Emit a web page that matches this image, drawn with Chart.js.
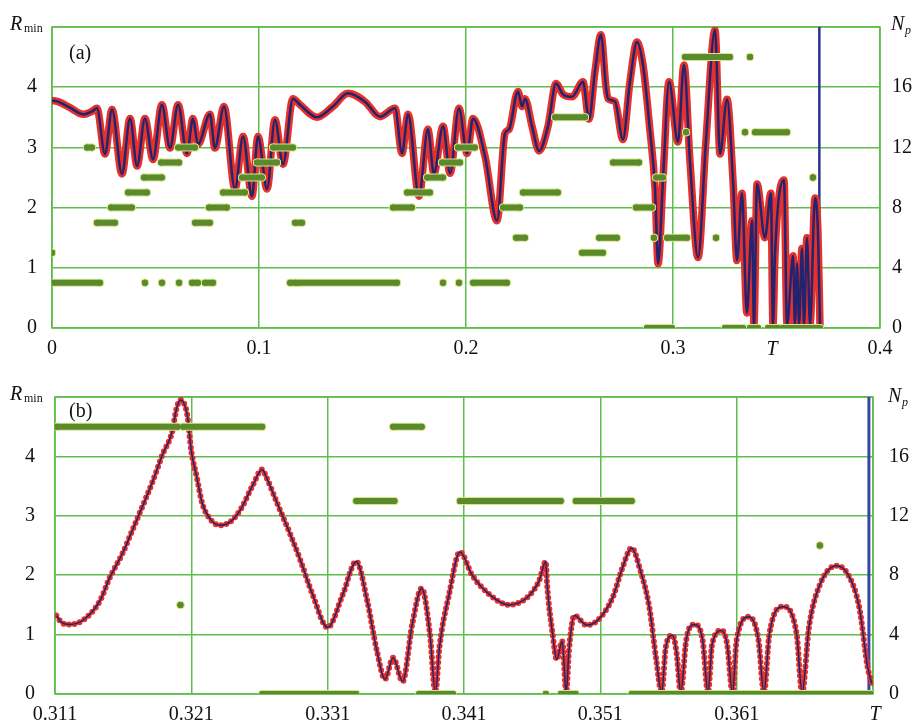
<!DOCTYPE html>
<html>
<head>
<meta charset="utf-8">
<script src="https://cdn.jsdelivr.net/npm/chart.js@4.4.0/dist/chart.umd.min.js"></script>
<style>
html, body { margin: 0; padding: 0; background: #fff; }
#wrapA { position: absolute; left: 0; top: 0; width: 913px; height: 362px; }
#wrapB { position: absolute; left: 0; top: 365px; width: 913px; height: 361px; }
</style>
</head>
<body>
<div id="wrapA"><canvas id="chartA"></canvas></div>
<div id="wrapB"><canvas id="chartB"></canvas></div>
<script>
// ---- data, panel (a) ----
const periodT = 0.3707;

const curveA_T = [0, 0.0029, 0.0087, 0.0150, 0.0193, 0.0217, 0.0256, 0.0290, 0.0338, 0.0377,
  0.0411, 0.0449, 0.0488, 0.0531, 0.0570, 0.0609, 0.0652, 0.0681, 0.0705, 0.0763,
  0.0787, 0.0831, 0.0884, 0.0923, 0.0966, 0.0995, 0.1039, 0.1077, 0.1116, 0.1164,
  0.1198, 0.1280, 0.1357, 0.1430, 0.1512, 0.1585, 0.1657, 0.1691, 0.1720, 0.1773,
  0.1816, 0.1845, 0.1889, 0.1923, 0.1966, 0.2005, 0.2034, 0.2092, 0.2150, 0.2188,
  0.2208, 0.2251, 0.2271, 0.2285, 0.2319, 0.2353, 0.2396, 0.2435, 0.2469, 0.2512,
  0.2565, 0.2594, 0.2623, 0.2652, 0.2676, 0.2686, 0.2720, 0.2758, 0.2792, 0.2826,
  0.2855, 0.2889, 0.2913, 0.2928, 0.2952, 0.2981, 0.3024, 0.3053, 0.3082, 0.3121,
  0.3159, 0.3203, 0.3227, 0.3261, 0.3290, 0.3309, 0.3333, 0.3357, 0.3382, 0.3391,
  0.3406, 0.3444, 0.3473, 0.3483, 0.3493, 0.3536, 0.3551, 0.3580, 0.3589, 0.3599,
  0.3609, 0.3623, 0.3633, 0.3647, 0.3662, 0.3686, 0.3700, 0.3710];
const curveA_R = [3.78, 3.76, 3.66, 3.55, 3.60, 3.65, 2.89, 3.63, 2.56, 3.48,
  2.69, 3.48, 2.80, 3.71, 2.99, 3.71, 2.90, 3.48, 3.05, 3.55,
  2.99, 3.68, 2.31, 3.18, 2.19, 3.18, 2.31, 3.46, 2.72, 3.81,
  3.71, 3.50, 3.68, 3.90, 3.76, 3.51, 3.65, 2.90, 3.55, 2.19,
  3.30, 2.56, 3.35, 2.57, 3.65, 2.90, 3.48, 2.85, 1.78, 3.23,
  3.30, 3.93, 3.68, 3.81, 3.35, 2.94, 3.35, 4.06, 3.88, 3.84,
  4.09, 3.47, 4.26, 4.87, 4.01, 3.81, 3.76, 3.13, 4.09, 4.75,
  4.37, 3.27, 2.33, 1.07, 2.49, 4.09, 3.09, 4.37, 2.77, 1.17,
  3.10, 4.95, 2.89, 3.80, 2.44, 1.12, 2.24, 0.25, 1.78, 0.05,
  2.39, 1.50, 2.24, 0.05, 1.24, 2.46, 0.05, 1.20, 0.05, 1.07,
  0.05, 1.32, 0.05, 1.50, 0.05, 2.16, 1.62, 0.05];

// N_p runs: start T, end T, value
const npA_start = [0, 0, 0.0169, 0.0217, 0.0285, 0.0367, 0.0444, 0.0449, 0.0527, 0.0531,
  0.0609, 0.0614, 0.0676, 0.0691, 0.0739, 0.0758, 0.0826, 0.0918, 0.0990, 0.1068,
  0.1150, 0.1174, 0.1193, 0.1647, 0.1715, 0.1812, 0.1884, 0.1889, 0.1961, 0.1966,
  0.2034, 0.2179, 0.2242, 0.2275, 0.2430, 0.2560, 0.2643, 0.2710, 0.2821, 0.2874,
  0.2908, 0.2918, 0.2971, 0.3063, 0.3058, 0.3208, 0.3251, 0.3348, 0.3372, 0.3372,
  0.3396, 0.3459, 0.3531, 0.3676];
const npA_end = [0, 0.0232, 0.0193, 0.0304, 0.0386, 0.0459, 0.0531, 0.0449, 0.0614, 0.0531,
  0.0691, 0.0614, 0.0705, 0.0763, 0.0778, 0.0845, 0.0932, 0.1014, 0.1087, 0.1164,
  0.1179, 0.1208, 0.1667, 0.1739, 0.1826, 0.1889, 0.1971, 0.1889, 0.2043, 0.1966,
  0.2198, 0.2261, 0.2285, 0.2444, 0.2575, 0.2662, 0.2729, 0.2836, 0.2899, 0.2995,
  0.2908, 0.2952, 0.3068, 0.3063, 0.3275, 0.3208, 0.3338, 0.3348, 0.3372, 0.3411,
  0.3551, 0.3507, 0.3710, 0.3676];
const npA_value = [5, 3, 12, 7, 8, 9, 10, 3, 11, 3,
  12, 3, 3, 7, 3, 8, 9, 10, 11, 12,
  3, 7, 3, 8, 9, 10, 11, 3, 12, 3,
  3, 8, 6, 9, 14, 5, 6, 11, 8, 0,
  6, 10, 6, 13, 18, 6, 0, 13, 18, 0,
  13, 0, 0, 10];

// ---- data, panel (b) ----
const curveB_T = [0.3111, 0.3115, 0.3121, 0.3131, 0.3143, 0.3150, 0.3160, 0.3167, 0.3174, 0.3182,
  0.3189, 0.3196, 0.3199, 0.3202, 0.3204, 0.3207, 0.3210, 0.3214, 0.3218, 0.3224,
  0.3231, 0.3238, 0.3246, 0.3255, 0.3262, 0.3265, 0.3273, 0.3282, 0.3290, 0.3299,
  0.3310, 0.3321, 0.3331, 0.3339, 0.3346, 0.3352, 0.3358, 0.3365, 0.3372, 0.3379,
  0.3385, 0.3389, 0.3392, 0.3399, 0.3407, 0.3416, 0.3429, 0.3443, 0.3456, 0.3465,
  0.3470, 0.3471, 0.3475, 0.3478, 0.3482, 0.3485, 0.3487, 0.3491, 0.3500, 0.3508,
  0.3519, 0.3526, 0.3533, 0.3539, 0.3546, 0.3551, 0.3555, 0.3558, 0.3563, 0.3566,
  0.3569, 0.3573, 0.3579, 0.3585, 0.3589, 0.3592, 0.3599, 0.3603, 0.3607, 0.3610,
  0.3619, 0.3626, 0.3630, 0.3634, 0.3644, 0.3654, 0.3658, 0.3663, 0.3670, 0.3683,
  0.3692, 0.3700, 0.3706, 0.3709];
const curveB_R = [1.32, 1.20, 1.17, 1.25, 1.57, 1.95, 2.39, 2.77, 3.15, 3.60,
  4.04, 4.42, 4.79, 4.95, 4.92, 4.70, 4.09, 3.65, 3.21, 2.94,
  2.84, 2.89, 3.10, 3.51, 3.78, 3.65, 3.21, 2.72, 2.25, 1.67,
  1.12, 1.67, 2.23, 1.57, 0.74, 0.25, 0.61, 0.21, 1.17, 1.78,
  1.01, 0.02, 0.79, 1.67, 2.39, 2.00, 1.67, 1.50, 1.62, 1.90,
  2.23, 1.83, 1.01, 0.58, 0.89, 0.02, 0.74, 1.32, 1.16, 1.24,
  1.62, 2.11, 2.46, 2.11, 1.45, 0.58, 0.02, 0.79, 0.99, 0.68,
  0.02, 0.91, 1.17, 0.91, 0.02, 0.84, 1.07, 0.84, 0.02, 0.91,
  1.30, 0.91, 0.02, 1.01, 1.47, 1.01, 0.02, 1.12, 1.78, 2.16,
  2.00, 1.45, 0.46, 0.18];

const npB_start = [0.3111, 0.3204, 0.3202, 0.3262, 0.3331, 0.3358, 0.3377, 0.3407, 0.3471, 0.3470, 0.3481, 0.3492, 0.3533, 0.3671];
const npB_end   = [0.3200, 0.3262, 0.3202, 0.3331, 0.3359, 0.3379, 0.3402, 0.3469, 0.3481, 0.3470, 0.3492, 0.3533, 0.3709, 0.3671];
const npB_value = [18, 18, 6, 0, 13, 18, 0, 13, 13, 0, 0, 13, 0, 10];

// ---- ticks ----
const xTicksA = [0, 0.1, 0.2, 0.3, 0.4];
const xLabelsA = ['0', '0.1', '0.2', '0.3', '0.4'];
const xTicksB = [0.311, 0.321, 0.331, 0.341, 0.351, 0.361, 0.371];
const xLabelsB = ['0.311', '0.321', '0.331', '0.341', '0.351', '0.361', ''];
const rTicks = [0, 1, 2, 3, 4, 5];
const rLabels = ['0', '1', '2', '3', '4', ''];
const npTicks = [0, 4, 8, 12, 16, 20];
const npLabels = ['0', '4', '8', '12', '16', ''];

const gridColor = '#5fbd4e';
const navy = '#24236f';
const red = '#e3322c';
const npGreen = '#5b8a2d';
const npEdge = '#d3e68a';
const serif = '"Liberation Serif", "Times New Roman", serif';

const toPoints = (xs, ys) => xs.map((x, i) => ({x: x, y: ys[i]}));
const toRuns = (starts, ends, values) => {
    const pts = [];
    starts.forEach((s, i) => {
        pts.push({x: s, y: values[i]}, {x: ends[i], y: values[i]}, {x: ends[i], y: null});
    });
    return pts;
};

// frame round the plot area and the free text labels
const makeDecor = (items) => ({
    id: 'decor',
    beforeDatasetsDraw(chart) {
        const a = chart.chartArea;
        const c = chart.ctx;
        c.save();
        c.strokeStyle = gridColor;
        c.lineWidth = 1.5;
        c.strokeRect(a.left, a.top, a.right - a.left, a.bottom - a.top);
        c.restore();
    },
    afterDraw(chart) {
        const c = chart.ctx;
        c.save();
        c.fillStyle = '#111';
        c.textBaseline = 'alphabetic';
        items.forEach(it => {
            c.font = (it.italic ? 'italic ' : '') + it.size + 'px ' + serif;
            c.textAlign = it.align || 'left';
            c.fillText(it.text, it.x, it.y);
        });
        c.restore();
    }
});

function buildPanel(canvasId, opt) {
    const ctx = document.getElementById(canvasId).getContext('2d');
    return new Chart(ctx, {
        type: 'line',
        data: {
            datasets: [
                {
                    data: opt.np, yAxisID: 'y2', borderColor: npGreen, borderWidth: 6,
                    borderCapStyle: 'round', tension: 0, spanGaps: false,
                    pointRadius: 3, pointBackgroundColor: npGreen, pointBorderWidth: 0,
                },
                {
                    data: opt.np, yAxisID: 'y2', borderColor: npEdge, borderWidth: 8,
                    borderCapStyle: 'round', tension: 0, spanGaps: false,
                    pointRadius: 4, pointBackgroundColor: npEdge, pointBorderWidth: 0,
                },
                {
                    data: opt.curve, yAxisID: 'y', borderColor: navy, borderWidth: opt.navyWidth,
                    cubicInterpolationMode: 'monotone', pointRadius: 0,
                },
                {
                    data: opt.curve, yAxisID: 'y', borderColor: red, borderWidth: opt.redWidth,
                    borderDash: opt.redDash, borderCapStyle: 'round',
                    cubicInterpolationMode: 'monotone', pointRadius: 0,
                },
                {
                    data: [{x: periodT, y: 0}, {x: periodT, y: 5}], yAxisID: 'y',
                    borderColor: opt.tColor, borderWidth: opt.tWidth, pointRadius: 0,
                },
            ],
        },
        options: {
            responsive: true,
            maintainAspectRatio: false,
            animation: false,
            layout: { padding: { top: opt.top, left: 0, right: 0, bottom: 0 } },
            scales: {
                x: {
                    type: 'linear', min: opt.xTicks[0], max: opt.xTicks[opt.xTicks.length - 1],
                    afterBuildTicks: s => { s.ticks = opt.xTicks.map(v => ({value: v})); },
                    afterFit: s => { s.height = opt.xHeight; },
                    ticks: {
                        autoSkip: false, maxRotation: 0, padding: opt.xPad, color: '#111',
                        font: { family: serif, size: 20 },
                        callback: (v, i) => opt.xLabels[i],
                    },
                    grid: { color: gridColor, lineWidth: 1.5, drawTicks: false },
                    border: { display: false },
                },
                y: {
                    position: 'left', min: 0, max: 5,
                    afterBuildTicks: s => { s.ticks = rTicks.map(v => ({value: v})); },
                    afterFit: s => { s.width = opt.leftW; },
                    ticks: {
                        padding: opt.leftPad, color: '#111', font: { family: serif, size: 20 },
                        callback: (v, i) => rLabels[i],
                    },
                    grid: { color: gridColor, lineWidth: 1.5, drawTicks: false },
                    border: { display: false },
                },
                y2: {
                    position: 'right', min: 0, max: 20,
                    afterBuildTicks: s => { s.ticks = npTicks.map(v => ({value: v})); },
                    afterFit: s => { s.width = opt.rightW; },
                    ticks: {
                        padding: opt.rightPad, color: '#111', font: { family: serif, size: 20 },
                        callback: (v, i) => npLabels[i],
                    },
                    grid: { drawOnChartArea: false, drawTicks: false },
                    border: { display: false },
                },
            },
            plugins: {
                legend: { display: false },
                tooltip: { enabled: false },
            },
        },
        plugins: [makeDecor(opt.labels)],
    });
}

buildPanel('chartA', {
    curve: toPoints(curveA_T, curveA_R),
    np: toRuns(npA_start, npA_end, npA_value),
    xTicks: xTicksA, xLabels: xLabelsA,
    top: 25, xHeight: 34, leftW: 52, rightW: 33,
    xPad: 9, leftPad: 15, rightPad: 12,
    navyWidth: 2.5, redWidth: 7.5, redDash: [],
    tColor: '#2a3590', tWidth: 2.5,
    labels: [
        {text: 'R', x: 10, y: 30, size: 20, italic: true},
        {text: 'min', x: 24, y: 32, size: 12},
        {text: '(a)', x: 69, y: 59, size: 20},
        {text: 'N', x: 891, y: 30, size: 20, italic: true},
        {text: 'p', x: 905, y: 34, size: 12, italic: true},
        {text: 'T', x: 772, y: 355, size: 20, italic: true, align: 'center'},
    ],
});

buildPanel('chartB', {
    curve: toPoints(curveB_T, curveB_R),
    np: toRuns(npB_start, npB_end, npB_value),
    xTicks: xTicksB, xLabels: xLabelsB,
    top: 30, xHeight: 28, leftW: 55, rightW: 40,
    xPad: 9, leftPad: 20, rightPad: 16,
    navyWidth: 1.5, redWidth: 6, redDash: [0, 5.5],
    tColor: '#3544a6', tWidth: 3,
    labels: [
        {text: 'R', x: 10, y: 35, size: 20, italic: true},
        {text: 'min', x: 24, y: 37, size: 12},
        {text: '(b)', x: 69, y: 52, size: 20},
        {text: 'N', x: 888, y: 37, size: 20, italic: true},
        {text: 'p', x: 902, y: 41, size: 12, italic: true},
        {text: 'T', x: 875, y: 355, size: 20, italic: true, align: 'center'},
    ],
});
</script>
</body>
</html>
